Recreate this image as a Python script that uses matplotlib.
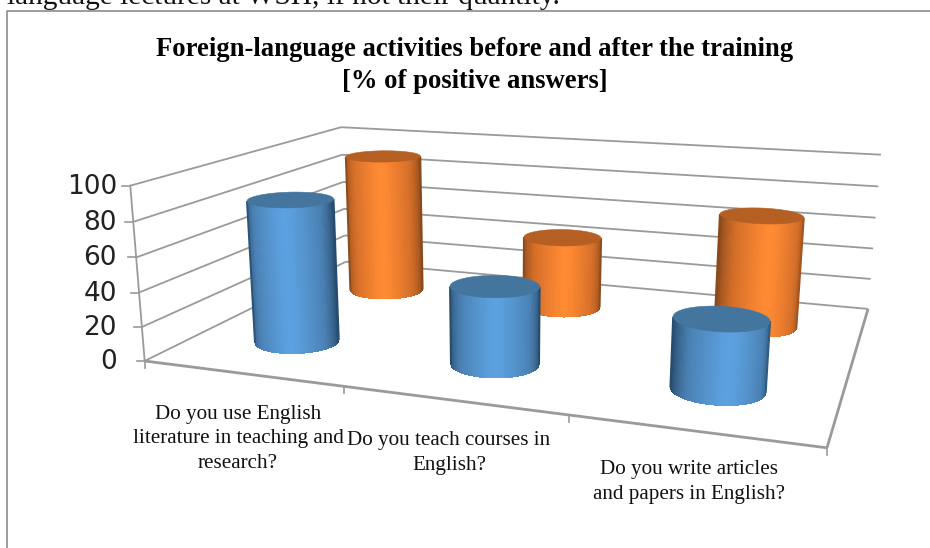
#!/usr/bin/env python3

import numpy as np
from matplotlib import pyplot as plt
from matplotlib.collections import PolyCollection
from matplotlib.colors import LinearSegmentedColormap

plt.rcParams['font.family'] = ['Liberation Serif', 'DejaVu Sans']

title_lines = ['Foreign-language activities before and after the training',
               '[% of positive answers]']
page_text = 'language lectures at WSH, if not their quantity.'
categories = ['Do you use English\nliterature in teaching and\nresearch?',
              'Do you teach courses in\nEnglish?',
              'Do you write articles\nand papers in English?']
before_values = [85, 45, 39]
after_values = [91.5, 46, 69]
value_ticks = [0, 20, 40, 60, 80, 100]

# where the box of the chart lies in the picture: (u, w, value) -> pixel
anchors = [
    ((0, 0, 0), (144, 361)), ((0, 0, 100), (130, 186)),
    ((0, 1, 0), (346, 262)), ((0, 1, 100), (341, 127)),
    ((1, 1, 0), (868, 309)), ((1, 1, 100), (881, 155)),
    ((1, 1, 40), (873, 248)), ((0, 0, 40), (140, 292)),
    ((1, 0, 0), (827, 448)),
]


def fit_camera(pairs):
    """Least squares 3x4 projection through the anchor points"""
    rows = []
    for (u, w, v), (x, y) in pairs:
        p = [u, w, v / 100, 1]
        rows.append(p + [0, 0, 0, 0] + [-x * c for c in p])
        rows.append([0, 0, 0, 0] + p + [-y * c for c in p])
    return np.linalg.svd(np.array(rows, float))[2][-1].reshape(3, 4)


camera = fit_camera(anchors)


def project(u, w, v):
    """Chart coordinates (category, depth, value) to pixels"""
    u, w = np.asarray(u, float), np.asarray(w, float)
    v = np.broadcast_to(np.asarray(v, float), u.shape)
    pts = camera @ np.array([u, w, v / 100, np.ones_like(u)])
    return pts[0] / pts[2], pts[1] / pts[2]


def edge(ax, u, w, v, lw=1.3, color='#9a9a9a'):
    x, y = project(u, w, v)
    ax.plot(x, y, color=color, lw=lw, solid_capstyle='butt', zorder=1)


def cylinder(ax, u, w, value, cmap, top_color, zorder):
    t = np.linspace(-np.pi, np.pi, 181)
    cu, cw = u + 0.066 * np.cos(t), w + 0.095 * np.sin(t)
    xb, yb = project(cu, cw, 0)
    xt, yt = project(cu, cw, value)
    quads, shades, outline = [], [], []
    for i in range(len(t) - 1):
        if (xb[i + 1] - xb[i]) + (xt[i + 1] - xt[i]) <= 0:
            continue
        quads.append([(xb[i], yb[i]), (xb[i + 1], yb[i + 1]),
                      (xt[i + 1], yt[i + 1]), (xt[i], yt[i])])
        outline.append((xb[i], yb[i]))
        # lit from one side of the chart, whatever the viewing angle
        off = abs(np.angle(np.exp(1j * (t[i] + np.radians(70)))))
        shades.append(np.interp(off, [0, 0.15, 0.8, 1.5], [1, 0.95, 0.55, 0]))
    # soft underlay for the outline, then the shaded strips on top
    ax.fill(*zip(*(outline + quads[-1][1:3] + [quads[0][3]])),
            color=cmap(0.6), lw=0, zorder=zorder)
    body = PolyCollection(quads, array=np.array(shades), cmap=cmap,
                          clim=(0, 1), edgecolors='none', antialiased=False,
                          zorder=zorder)
    ax.add_collection(body)
    # side lines hide the steps of the strips
    for quad, shade, a, b in ((quads[0], shades[0], 0, 3),
                              (quads[-1], shades[-1], 1, 2)):
        ax.plot([quad[a][0], quad[b][0]], [quad[a][1], quad[b][1]],
                color=cmap(shade), lw=1.4, solid_capstyle='butt',
                zorder=zorder + 0.05)
    ax.fill(xt, yt, color=top_color, lw=0.4, zorder=zorder + 0.1)


fig = plt.figure(figsize=(9.3, 5.48), dpi=100)
ax = fig.add_axes([0, 0, 1, 1])
ax.set_xlim(0, 930)
ax.set_ylim(548, 0)
ax.axis('off')

# text of the page above the chart, cut by the image edge
ax.text(7, 4, page_text, fontsize=21.2, color='#111111', va='baseline')
ax.plot([7, 7, 930], [548, 11, 11], color='#8c8c8c', lw=1.2, zorder=1)

for line, y in zip(title_lines, (56, 88)):
    ax.text(475, y, line, fontsize=19.2, fontweight='bold', ha='center',
            va='baseline', color='black')

# walls and floor
for v in value_ticks:
    edge(ax, np.array([0, 0]), np.array([0, 1]), v)
    edge(ax, np.array([0, 1]), np.array([1, 1]), v)
    x, y = project(0.0, 0.0, v)
    ax.plot([x - 8, x], [y, y], color='#9a9a9a', lw=1.2, zorder=1)
    ax.text(117, y + 1, str(v), family=['DejaVu Sans'],
            fontsize=19, ha='right', va='center', color='#222222')
x, y = project(np.zeros(2), np.zeros(2), np.array([0, 100]))
ax.plot(x, y, color='#9a9a9a', lw=1.3, zorder=1)
edge(ax, np.array([0, 1]), np.array([0, 0]), 0, lw=2)
edge(ax, np.array([1, 1]), np.array([0, 1]), 0, lw=2)
for i in range(4):
    x, y = project(i / 3, 0.0, 0)
    ax.plot([x, x], [y, y + 7], color='#9a9a9a', lw=1.2, zorder=1)

blue = LinearSegmentedColormap.from_list(
    'blue', ['#274c6e', '#4a80b2', '#5ca1e0'])
orange = LinearSegmentedColormap.from_list(
    'orange', ['#8a4a1c', '#d06c28', '#ff8a33'])

centres = [1 / 6, 1 / 2, 5 / 6]
for u, value in zip(centres, after_values):
    cylinder(ax, u, 0.75, value, orange, '#b55f22', 3)
for u, value in zip(centres, before_values):
    cylinder(ax, u, 0.25, value, blue, '#44759f', 4)

label_x = [238, 449, 689]
label_y = [439, 453, 482]
for name, x, y in zip(categories, label_x, label_y):
    ax.text(x, y, name, fontsize=15.2, ha='center', va='center',
            color='#111111', linespacing=1.39)

fig.savefig('out.png', dpi=100)
